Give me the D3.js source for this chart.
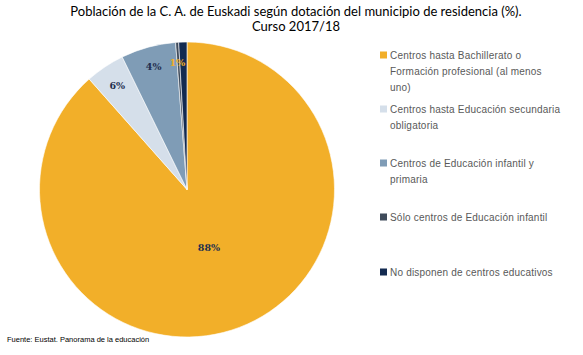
<!DOCTYPE html>
<html><head><meta charset="utf-8">
<script src="https://cdn.jsdelivr.net/npm/d3@7"></script>
<style>body{margin:0;background:#fff}svg{display:block}</style>
</head><body>
<script>
const categories = [
  "Centros hasta Bachillerato o Formación  profesional (al menos uno)",
  "Centros hasta Educación secundaria obligatoria",
  "Centros de Educación infantil y primaria",
  "Sólo centros de Educación infantil",
  "No disponen de centros educativos"
];
const legendLines = [
  ["Centros hasta Bachillerato o", "Formación  profesional (al menos", "uno)"],
  ["Centros hasta Educación secundaria", "obligatoria"],
  ["Centros de Educación infantil y", "primaria"],
  ["Sólo centros de Educación infantil"],
  ["No disponen de centros educativos"]
];
const values = [88.4, 4.3, 6.0, 0.33, 0.9];
const labels = ["88%", "6%", "4%", "", "1%"];
const colors = ["#f2af29", "#d5dfea", "#7f9cb6", "#3f4b5b", "#132a50"];
const labelColors = ["#1f2f4f", "#1f2f4f", "#1f2f4f", "#1f2f4f", "#f2af29"];
const titleLines = ["Población de la C. A. de Euskadi según dotación del municipio de residencia (%).", "Curso 2017/18"];
const source = "Fuente: Eustat. Panorama de la educación";

const W = 583, H = 355;
const svg = d3.select("body").append("svg").attr("width", W).attr("height", H);

svg.selectAll("text.title").data(titleLines).join("text")
  .attr("class", "title")
  .attr("x", 296).attr("y", (d, i) => 16 + i * 15)
  .attr("text-anchor", "middle")
  .style("font-family", "Lato, 'Open Sans', sans-serif").style("font-size", "13px").attr("fill", "#000")
  .text(d => d);

const cx = 187, cy = 189.5, r = 147.5;
const pie = d3.pie().sort(null).value(d => d);
const arcs = pie(values);
const arc = d3.arc().innerRadius(0).outerRadius(r);
const g = svg.append("g").attr("transform", `translate(${cx},${cy})`);
g.selectAll("path").data(arcs).join("path")
  .attr("d", arc).attr("fill", (d, i) => colors[i])
  .attr("stroke", "#fff").attr("stroke-width", 0.6);

const labelR = [0.42, 0.85, 0.86, 0.8, 0.86];
g.selectAll("text.lbl").data(arcs).join("text")
  .attr("class", "lbl")
  .attr("transform", (d, i) => {
    const a = (d.startAngle + d.endAngle) / 2;
    const rr = r * labelR[i];
    let x = Math.sin(a) * rr, y = -Math.cos(a) * rr;
    if (i === 4) x -= 6;
    return `translate(${x},${y})`;
  })
  .attr("text-anchor", "middle").attr("dy", "0.35em")
  .style("font-family", "'DejaVu Serif', serif").style("font-weight", "bold").style("font-size", "9.5px")
  .attr("fill", (d, i) => labelColors[i])
  .text((d, i) => labels[i]);

const legendY = [55, 109, 163, 217, 272];
const lg = svg.append("g");
legendLines.forEach((lines, i) => {
  lg.append("rect").attr("x", 380).attr("y", legendY[i] - 3.5).attr("width", 7).attr("height", 7).attr("fill", colors[i]);
  lines.forEach((t, j) => {
    lg.append("text").attr("x", 390).attr("y", legendY[i] + j * 16).attr("dy", "0.35em")
      .style("font-family", "'Liberation Sans', Arial, sans-serif").style("font-size", "10px")
      .style("letter-spacing", "0.2px")
      .attr("fill", "#595959").text(t);
  });
});

svg.append("text").attr("x", 7).attr("y", 342)
  .style("font-family", "'Liberation Sans', Arial, sans-serif").style("font-size", "7.5px")
  .attr("fill", "#000").text(source);
</script>
</body></html>
